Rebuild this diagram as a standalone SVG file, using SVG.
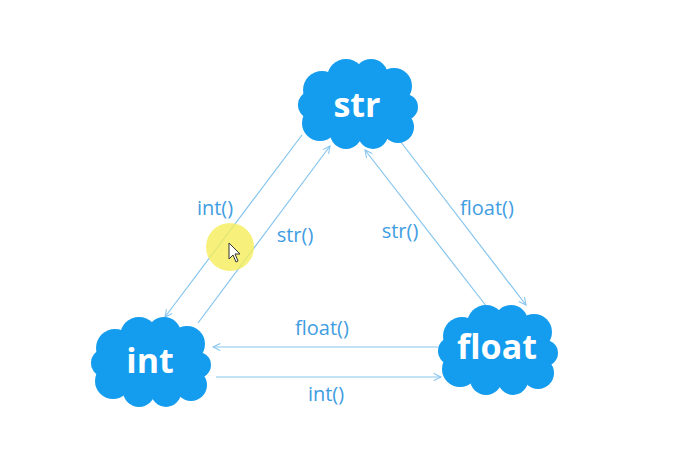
<svg xmlns="http://www.w3.org/2000/svg" width="681" height="454" viewBox="0 0 681 454">
<style>
.cloud{fill:#149cee}
.name{font-family:"Open Sans","Noto Sans",sans-serif;font-weight:bold;font-size:34px;fill:#fff;text-anchor:middle}
.lbl{font-family:"Open Sans","Noto Sans",sans-serif;font-size:20px;fill:#3f9de2;text-anchor:middle}
.edge{stroke:#86c5ee;stroke-width:1.2;fill:none;marker-end:url(#ah)}
</style>
<defs>
<marker id="ah" viewBox="0 0 10 10" refX="9" refY="5" markerWidth="9" markerHeight="9" markerUnits="userSpaceOnUse" orient="auto">
<path d="M1,1 L9,5 L1,9" fill="none" stroke="#86c5ee" stroke-width="1.2"/>
</marker>
<g id="cl">
<ellipse cx="0" cy="1" rx="52" ry="35"/>
<circle cx="-36" cy="-14" r="19"/>
<circle cx="-12" cy="-26" r="19"/>
<circle cx="13" cy="-28" r="17"/>
<circle cx="36" cy="-18" r="18"/>
<circle cx="47" cy="3" r="13"/>
<circle cx="40" cy="23" r="16"/>
<circle cx="15" cy="30" r="15"/>
<circle cx="-12" cy="29" r="16"/>
<circle cx="-38" cy="19" r="18"/>
<circle cx="-46" cy="1" r="14"/>
</g>
</defs>
<rect width="681" height="454" fill="#fff"/>
<g id="connectors">
<line class="edge" x1="302" y1="135" x2="165" y2="317"/>
<line class="edge" x1="198" y1="323" x2="330" y2="146"/>
<line class="edge" x1="487" y1="307" x2="365" y2="150"/>
<line class="edge" x1="397" y1="137" x2="526" y2="305"/>
<line class="edge" x1="438" y1="347" x2="213" y2="347"/>
<line class="edge" x1="216" y1="377" x2="441" y2="377"/>
<text class="lbl" x="215" y="215">int()</text>
<text class="lbl" x="295" y="242">str()</text>
<text class="lbl" x="400" y="238">str()</text>
<text class="lbl" x="487" y="215">float()</text>
<text class="lbl" x="322" y="335">float()</text>
<text class="lbl" x="326" y="401">int()</text>
</g>
<g id="node-str">
<use href="#cl" class="cloud" transform="translate(358,104)"/>
<text class="name" x="357" y="117">str</text>
</g>
<g id="node-int">
<use href="#cl" class="cloud" transform="translate(151,362)"/>
<text class="name" x="150" y="373">int</text>
</g>
<g id="node-float">
<use href="#cl" class="cloud" transform="translate(498,350)"/>
<text class="name" x="497" y="359">float</text>
</g>
<g id="cursor">
<circle cx="230" cy="247" r="24" fill="#f5ee5a" opacity="0.8"/>
<path d="M229,243 L229,259 L233,255 L236,262 L238,261 L235,254 L240,254 Z" fill="#fff" stroke="#333" stroke-width="1"/>
</g>
</svg>
